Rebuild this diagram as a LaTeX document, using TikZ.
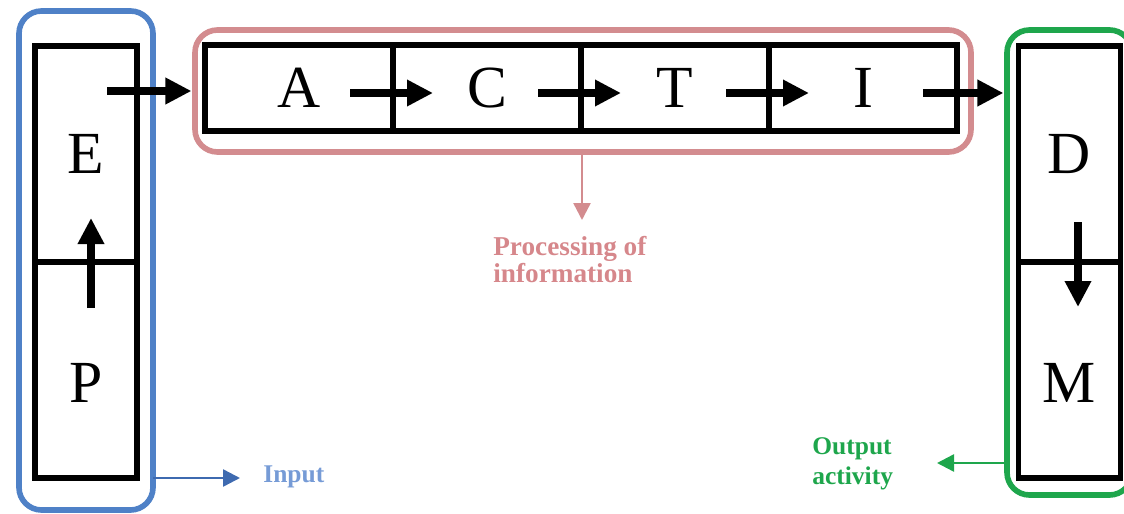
\documentclass[tikz,border=0pt]{standalone}
\usepackage{fontspec}
\setmainfont{Liberation Serif}
\usetikzlibrary{arrows.meta,positioning,calc}

\definecolor{inblue}{RGB}{79,129,199}
\definecolor{inarrow}{RGB}{62,106,176}
\definecolor{intext}{RGB}{118,155,214}
\definecolor{procpink}{RGB}{211,140,143}
\definecolor{proctext}{RGB}{214,135,139}
\definecolor{outgreen}{RGB}{30,166,76}

\begin{document}
\begin{tikzpicture}[
    cell/.style={draw, line width=3.4pt, inner sep=0pt, outer sep=0pt, font=\fontsize{34}{34}\selectfont},
    rowcell/.style={cell, minimum width=3.76cm, minimum height=1.72cm},
    colcell/.style={cell, minimum width=2.04cm, minimum height=4.32cm},
    lowcell/.style={colcell, text height=1.31cm, text depth=0pt},
    group/.style={draw, line width=3.2pt, rounded corners=0.45cm, inner sep=0pt, outer sep=0pt},
    lab/.style={inner sep=0pt, align=left, font=\fontsize{14.5}{#1}\selectfont\bfseries},
    lab/.default=14,
    flow/.style={line width=4.8pt, -{Triangle[length=0.52cm, width=0.5cm]}},
    tag/.style={line width=1.4pt, -{Triangle[length=0.34cm, width=0.34cm]}},
    node distance=0pt
  ]
    \useasboundingbox (0,0) rectangle (22.48,-10.28);

    % coloured groups
    \node[group, draw=inblue, minimum width=2.68cm, minimum height=9.98cm] (inbox) at (1.72,-5.21) {};
    \node[group, draw=procpink, minimum width=15.52cm, minimum height=2.44cm] (proc) at (11.66,-1.82) {};
    \node[group, draw=outgreen, minimum width=2.5cm, minimum height=9.30cm] (outbox) at (21.39,-5.25) {};

    % stages
    \node[colcell] (e) at (1.72,-3.08) {E};
    \node[lowcell, below=of e] (p) {P};
    \node[rowcell] (a) at (5.98,-1.76) {A};
    \node[rowcell, right=of a] (c) {C};
    \node[rowcell, right=of c] (t) {T};
    \node[rowcell, right=of t] (i) {I};
    \node[colcell] (d) at (21.39,-3.08) {D};
    \node[lowcell, below=of d] (m) {M};

    % flow between stages
    \draw[flow] ($(p.north)+(0.1,-0.92)$) -- ($(e.south)+(0.1,0.88)$);
    \draw[flow, shorten >=2pt] ($(proc.west -| e.east)+(-0.6,0)$) -- (proc.west);
    \foreach \s/\t in {a/c, c/t, t/i}
      \draw[flow] ($(\s.east)+(-0.86,-0.1)$) -- ($(\t.west)+(0.8,-0.1)$);
    \draw[flow, shorten >=2pt] ($(i.east)+(-0.68,-0.1)$) -- ($(outbox.west |- i.east)+(0,-0.1)$);
    \draw[flow] ($(d.south)+(0.17,0.8)$) -- ($(m.north)+(0.17,-0.9)$);

    % labels
    \node[lab, text=intext, anchor=base west] (inlab) at (5.26,-9.64) {Input};
    \node[lab, text=proctext, anchor=north west, font=\fontsize{15.5}{14}\selectfont\bfseries] (proclab) at (9.86,-4.72) {Processing of\\information};
    \node[lab=17, text=outgreen, anchor=north west] (outlab) at (16.24,-8.74) {Output\\activity};

    \coordinate (inpt) at (4.8,-9.56);
    \coordinate (procpt) at (11.64,-4.4);
    \coordinate (outpt) at (18.74,-9.26);
    \draw[tag, inarrow] (inbox.east |- inpt) -- (inpt);
    \draw[tag, procpink] (proc.south -| procpt) -- (procpt);
    \draw[tag, outgreen] (outbox.west |- outpt) -- (outpt);
\end{tikzpicture}
\end{document}
